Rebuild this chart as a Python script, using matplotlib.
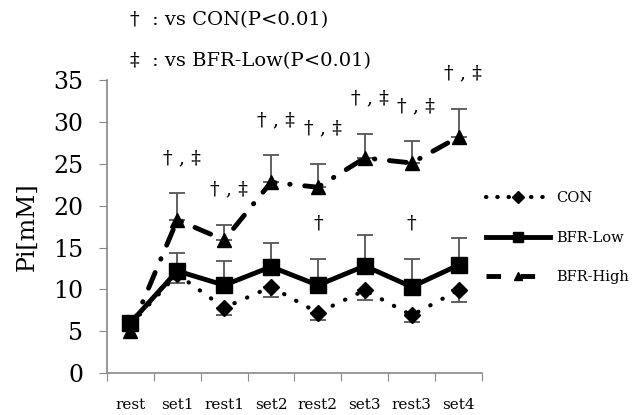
import numpy as np
import matplotlib
matplotlib.use('Agg')
import matplotlib.pyplot as plt
from matplotlib.lines import Line2D

plt.rcParams['font.family'] = ['DejaVu Serif']

labels = ['rest', 'set1', 'rest1', 'set2', 'rest2', 'set3', 'rest3', 'set4']

con = [5.8, 11.8, 7.8, 10.3, 7.2, 9.9, 6.9, 9.9]
con_sd = [0.3, 1.0, 0.9, 1.2, 0.9, 1.2, 0.8, 1.4]
low = [6.0, 12.2, 10.5, 12.7, 10.5, 12.8, 10.3, 12.9]
low_sd = [0.3, 2.1, 2.9, 2.8, 3.1, 3.7, 3.3, 3.2]
high = [5.0, 18.3, 15.9, 22.8, 22.2, 25.7, 25.1, 28.2]
high_sd = [0.3, 3.2, 1.8, 3.2, 2.8, 2.9, 2.6, 3.4]

# significance marks above BFR-High / BFR-Low
high_marks = ['', '† , ‡', '† , ‡', '† , ‡', '† , ‡', '† , ‡', '† , ‡', '† , ‡']
low_marks = ['', '', '', '', '†', '', '†', '']

x = np.arange(len(labels))
fig = plt.figure(figsize=(6.35, 4.15), dpi=100)
ax = fig.add_axes([0.1685, 0.101, 0.5905, 0.706])

ebc = '#555555'
# CON: error bars downward
ax.errorbar(x, con, yerr=[con_sd, np.zeros(8)], fmt='none', ecolor=ebc,
            elinewidth=1.3, capsize=6, capthick=1.3, zorder=2)
ax.plot(x, con, color='black', lw=3, linestyle=(0, (0.1, 3.2)),
        dash_capstyle='round', zorder=3)
ax.plot(x, con, 'D', color='black', ms=8, zorder=4)

# BFR-Low: error bars upward
ax.errorbar(x, low, yerr=[np.zeros(8), low_sd], fmt='none', ecolor=ebc,
            elinewidth=1.3, capsize=6, capthick=1.3, zorder=2)
ax.plot(x, low, color='black', lw=3.5, marker='s', ms=11, zorder=5)

# BFR-High: error bars upward
ax.errorbar(x, high, yerr=[np.zeros(8), high_sd], fmt='none', ecolor=ebc,
            elinewidth=1.3, capsize=6, capthick=1.3, zorder=2)
ax.plot(x, high, color='black', lw=3.5, linestyle=(0, (3.5, 3, 0.1, 3)),
        dash_capstyle='round', zorder=3)
ax.plot(x, high, '^', color='black', ms=10, zorder=4)

for i in range(len(labels)):
    if high_marks[i]:
        ax.text(x[i] + 0.1, high[i] + high_sd[i] + 4.2, high_marks[i],
                ha='center', va='center', fontsize=14)
    if low_marks[i]:
        ax.text(x[i], low[i] + low_sd[i] + 4.3, low_marks[i],
                ha='center', va='center', fontsize=14)

ax.set_xlim(-0.5, 7.5)
ax.set_ylim(0, 35)
ax.set_yticks(np.arange(0, 36, 5))
ax.set_xticks(np.arange(-0.5, 8, 1))
ax.set_xticklabels([])
ax.set_xticks(x, minor=True)
ax.set_xticklabels(labels, minor=True, fontsize=11)
ax.tick_params(axis='x', which='minor', length=0, pad=18)
ax.tick_params(axis='x', which='major', length=6, color='#888888')
ax.tick_params(axis='y', length=6, color='#888888', pad=11, labelsize=17)
for s in ['top', 'right']:
    ax.spines[s].set_visible(False)
for s in ['left', 'bottom']:
    ax.spines[s].set_color('#888888')
    ax.spines[s].set_linewidth(1.2)

ax.set_ylabel('Pi[mM]', fontsize=17)
ax.yaxis.set_label_coords(-0.182, 0.5)

fig.text(0.205, 0.952, '†  : vs CON(P<0.01)', fontsize=14, va='center')
fig.text(0.205, 0.853, '‡  : vs BFR-Low(P<0.01)', fontsize=14, va='center')

handles = [
    Line2D([], [], color='black', lw=3, linestyle=(0, (0.1, 2.6)),
           dash_capstyle='round', marker='D', ms=6),
    Line2D([], [], color='black', lw=3.5, marker='s', ms=7),
    Line2D([], [], color='black', lw=3.5, linestyle=(0, (3, 4)), marker='^', ms=6),
]
fig.legend(handles, ['CON', 'BFR-Low', 'BFR-High'], loc='center left',
           bbox_to_anchor=(0.745, 0.427), frameon=False, fontsize=10.5,
           handlelength=4.4, labelspacing=1.75, numpoints=1, handletextpad=0.4)

fig.savefig('out.png', dpi=100, facecolor='white')
